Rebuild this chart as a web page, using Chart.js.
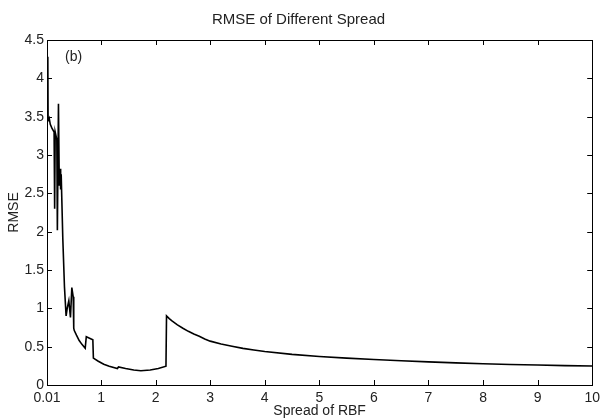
<!DOCTYPE html>
<html>
<head>
<meta charset="utf-8">
<script src="https://cdn.jsdelivr.net/npm/chart.js@4.4.1/dist/chart.umd.min.js"></script>
<style>
  html, body { margin: 0; background: #fff; }
</style>
</head>
<body>
<canvas id="chart" width="605" height="420"></canvas>
<script>
// spread of RBF vs RMSE
const spread = [0.025, 0.03, 0.05, 0.07, 0.1, 0.14, 0.15, 0.16, 0.19, 0.2, 0.22, 0.235, 0.25, 0.26, 0.27, 0.3, 0.33,
  0.36, 0.38, 0.41, 0.44, 0.465, 0.49, 0.5, 0.51, 0.55, 0.6, 0.65, 0.71, 0.73, 0.85, 0.86, 0.95, 1.05, 1.15, 1.3,
  1.32, 1.45, 1.6, 1.73, 1.9, 2.05, 2.19, 2.2, 2.25, 2.3, 2.4, 2.5, 2.6, 2.7, 2.8, 2.9, 3.0, 3.2, 3.4, 3.6, 3.8,
  4.0, 4.5, 5.0, 5.5, 6.0, 6.5, 7.0, 7.5, 8.0, 8.5, 9.0, 9.5, 10];
const rmse = [4.28, 3.45, 3.48, 3.4, 3.35, 3.3, 2.3, 3.3, 3.2, 2.02, 3.67, 2.6, 2.82, 2.55, 2.75, 1.9, 1.28,
  0.9, 1.0, 1.1, 0.88, 1.27, 1.15, 0.74, 0.71, 0.65, 0.58, 0.53, 0.48, 0.63, 0.59, 0.35, 0.31, 0.27, 0.245, 0.215,
  0.235, 0.215, 0.195, 0.185, 0.195, 0.215, 0.245, 0.9, 0.865, 0.835, 0.785, 0.74, 0.7, 0.665, 0.635, 0.6, 0.572,
  0.535, 0.505, 0.478, 0.456, 0.437, 0.4, 0.372, 0.35, 0.332, 0.316, 0.302, 0.289, 0.278, 0.268, 0.26, 0.253, 0.248];
const xTicks = [0.01, 1, 2, 3, 4, 5, 6, 7, 8, 9, 10];
const yTicks = [0, 0.5, 1, 1.5, 2, 2.5, 3, 3.5, 4, 4.5];

const FONT = "'Liberation Sans', Arial, sans-serif";
const TXT = '#222';

// MATLAB style box with inward ticks, plus the panel tag
const boxPlugin = {
  id: 'box',
  afterDatasetsDraw(chart) {
    const { ctx, chartArea: a, scales: { x, y } } = chart;
    const len = 5;
    ctx.save();
    ctx.strokeStyle = '#000';
    ctx.lineWidth = 1;
    ctx.strokeRect(Math.round(a.left) + 0.5, Math.round(a.top) + 0.5,
      Math.round(a.right - a.left), Math.round(a.bottom - a.top));
    ctx.beginPath();
    x.ticks.forEach(t => {
      const px = Math.round(x.getPixelForValue(t.value)) + 0.5;
      ctx.moveTo(px, a.bottom); ctx.lineTo(px, a.bottom - len);
      ctx.moveTo(px, a.top); ctx.lineTo(px, a.top + len);
    });
    y.ticks.forEach(t => {
      const py = Math.round(y.getPixelForValue(t.value)) + 0.5;
      ctx.moveTo(a.left, py); ctx.lineTo(a.left + len, py);
      ctx.moveTo(a.right, py); ctx.lineTo(a.right - len, py);
    });
    ctx.stroke();
    ctx.fillStyle = TXT;
    ctx.font = '14px ' + FONT;
    ctx.textAlign = 'left';
    ctx.textBaseline = 'middle';
    ctx.fillText('(b)', a.left + 18, a.top + 17);
    ctx.restore();
  }
};

new Chart(document.getElementById('chart'), {
  type: 'line',
  data: {
    datasets: [{
      data: spread.map((s, i) => ({ x: s, y: rmse[i] })),
      borderColor: '#000',
      borderWidth: 1.6,
      pointRadius: 0,
      tension: 0,
      fill: false
    }]
  },
  options: {
    responsive: false,
    devicePixelRatio: 1,
    animation: false,
    layout: { padding: { right: 8, left: 0 } },
    plugins: {
      legend: { display: false },
      tooltip: { enabled: false },
      title: {
        display: true,
        text: 'RMSE of Different Spread',
        color: TXT,
        font: { family: FONT, size: 15, weight: 'normal', lineHeight: 1.2 },
        padding: { top: 11, bottom: 11 }
      }
    },
    scales: {
      x: {
        type: 'linear',
        min: 0.01,
        max: 10,
        afterBuildTicks: s => { s.ticks = xTicks.map(v => ({ value: v })); },
        afterFit: s => { s.height = 35; },
        grid: { display: false, drawTicks: false },
        border: { display: false },
        ticks: {
          color: TXT, padding: 5, maxRotation: 0, autoSkip: false,
          font: { family: FONT, size: 14 },
          callback: v => String(v)
        },
        title: {
          display: true, text: 'Spread of RBF', color: TXT,
          font: { family: FONT, size: 14, lineHeight: 1.2 }, padding: { top: 0, bottom: 0 }
        }
      },
      y: {
        min: 0,
        max: 4.5,
        afterBuildTicks: s => { s.ticks = yTicks.map(v => ({ value: v })); },
        afterFit: s => { s.width = 47; },
        grid: { display: false, drawTicks: false },
        border: { display: false },
        ticks: {
          color: TXT, padding: 3, autoSkip: false,
          font: { family: FONT, size: 14 },
          callback: v => String(v)
        },
        title: {
          display: true, text: 'RMSE', color: TXT,
          font: { family: FONT, size: 14, lineHeight: 1.2 }, padding: { top: 5.5, bottom: 0 }
        }
      }
    }
  },
  plugins: [boxPlugin]
});
</script>
</body>
</html>
